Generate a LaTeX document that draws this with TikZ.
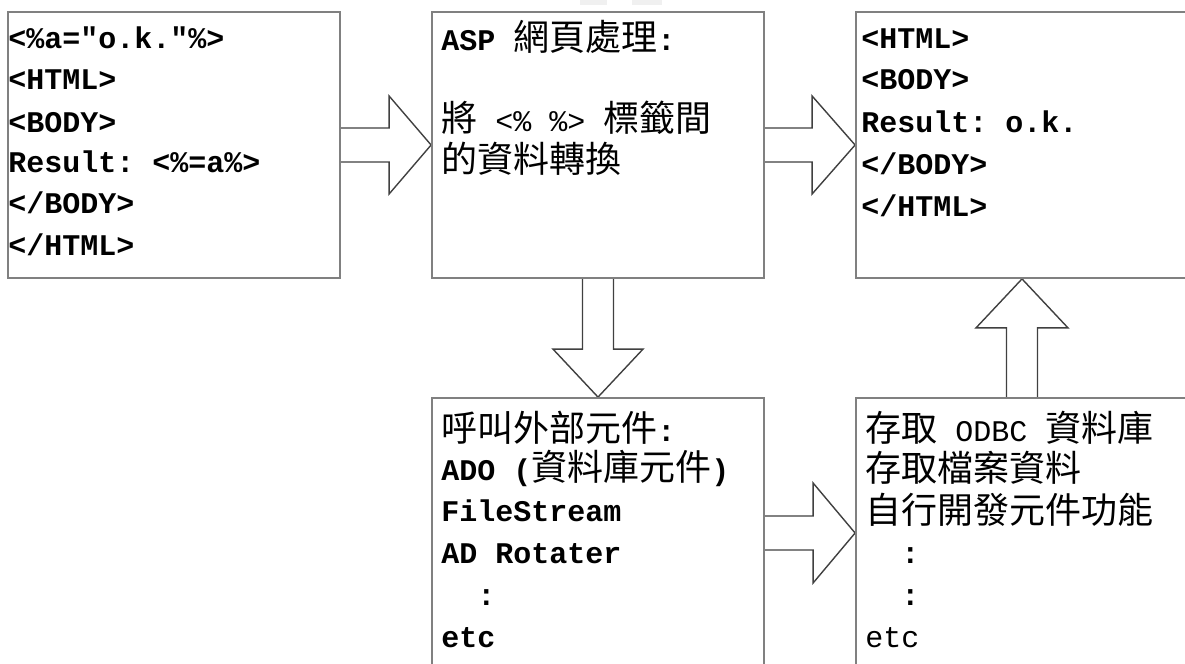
\documentclass[tikz,border=0pt]{standalone}
\usepackage{fontspec}
\setmonofont{Liberation Mono}
\newfontfamily\cjkfont{Noto Sans CJK TC}
\usetikzlibrary{calc,backgrounds}
\newcommand\zhtxt[1]{{\cjkfont\mdseries\fontsize{18pt}{20pt}\selectfont #1}}
\begin{document}
\begin{tikzpicture}[x=0.5pt,y=-0.5pt,
  boxnode/.style={draw=black!50, line width=0.9pt, rectangle, minimum width=166pt, minimum height=133pt, inner sep=0pt},
  tallbox/.style={boxnode, minimum height=141pt},
  txt/.style={anchor=base west, inner sep=0pt, font=\fontsize{15pt}{20pt}\selectfont\ttfamily\bfseries},
  blockarrow/.style={draw=black!75, line width=0.7pt, fill=white, line join=miter}]
\useasboundingbox (0,0) rectangle (1185,664);
\clip (0,0) rectangle (1185,664);

% boxes
\node[boxnode] (b1) at (174,145) {};
\node[boxnode] (b2) at (598,145) {};
\node[boxnode] (b3) at (1022,145) {};
\node[tallbox] (b4) at (598,539) {};
\node[tallbox] (b5) at (1022,539) {};

\coordinate (a4s) at ($(b4.east)+(0,-6)$);
\coordinate (a4t) at ($(b5.west)+(0,-6)$);

% faint marks at the top
\fill[black!6] (580,0) rectangle (607,5);
\fill[black!6] (632,0) rectangle (662,5);

\begin{scope}[on background layer]
\fill[white] (0,0) rectangle (1185,664);
% b1 -> b2
\filldraw[blockarrow] ($(b1.east)+(0,-17)$) -- ($(b2.west)+(-42,-17)$) -- ($(b2.west)+(-42,-49)$) -- (b2.west) -- ($(b2.west)+(-42,49)$) -- ($(b2.west)+(-42,17)$) -- ($(b1.east)+(0,17)$);
% b2 -> b3
\filldraw[blockarrow] ($(b2.east)+(0,-17)$) -- ($(b3.west)+(-43,-17)$) -- ($(b3.west)+(-43,-49)$) -- (b3.west) -- ($(b3.west)+(-43,49)$) -- ($(b3.west)+(-43,17)$) -- ($(b2.east)+(0,17)$);
% b2 -> b4
\filldraw[blockarrow] ($(b2.south)+(-15.5,0)$) -- ($(b4.north)+(-15.5,-48)$) -- ($(b4.north)+(-45,-48)$) -- (b4.north) -- ($(b4.north)+(45,-48)$) -- ($(b4.north)+(15.5,-48)$) -- ($(b2.south)+(15.5,0)$);
% b4 -> b5
\filldraw[blockarrow] ($(a4s)+(0,-17)$) -- ($(a4t)+(-42,-17)$) -- ($(a4t)+(-42,-50)$) -- (a4t) -- ($(a4t)+(-42,50)$) -- ($(a4t)+(-42,17)$) -- ($(a4s)+(0,17)$);
% b5 -> b3
\filldraw[blockarrow] ($(b5.north)+(-15.5,0)$) -- ($(b3.south)+(-15.5,49)$) -- ($(b3.south)+(-46,49)$) -- (b3.south) -- ($(b3.south)+(46,49)$) -- ($(b3.south)+(15.5,49)$) -- ($(b5.north)+(15.5,0)$);
\end{scope}

% box 1 text
\node[txt] (t11) at (8,48) {<\%a="o.k."\%>};
\node[txt] (t12) at (8,90) {<HTML>};
\node[txt] (t13) at (8,132) {<BODY>};
\node[txt] (t14) at (8,172) {Result: <\%=a\%>};
\node[txt] (t15) at (8,213) {</BODY>};
\node[txt] (t16) at (8,255) {</HTML>};

% box 2 text
\node[txt] (t21) at (441,50) {ASP \zhtxt{網頁處理}:};
\node[txt] (t22) at (441,131) {\zhtxt{將} {\mdseries<\% \%>} \zhtxt{標籤間}};
\node[txt] (t23) at (441,172) {\zhtxt{的資料轉換}};

% box 3 text
\node[txt] (t31) at (861,48) {<HTML>};
\node[txt] (t32) at (861,90) {<BODY>};
\node[txt] (t33) at (861,132) {Result: o.k.};
\node[txt] (t34) at (861,174) {</BODY>};
\node[txt] (t35) at (861,216) {</HTML>};

% box 4 text
\node[txt] (t41) at (441,441) {\zhtxt{呼叫外部元件}:};
\node[txt] (t42) at (441,480) {ADO (\zhtxt{資料庫元件})};
\node[txt] (t43) at (441,521) {FileStream};
\node[txt] (t44) at (441,563) {AD Rotater};
\node[txt] (t45) at (441,605) {\phantom{AA}:};
\node[txt] (t46) at (441,647) {etc};

% box 5 text
\node[txt] (t51) at (865,441) {\zhtxt{存取} {\mdseries ODBC} \zhtxt{資料庫}};
\node[txt] (t52) at (865,481) {\zhtxt{存取檔案資料}};
\node[txt] (t53) at (865,523) {\zhtxt{自行開發元件功能}};
\node[txt] (t54) at (865,563) {\phantom{AA}:};
\node[txt] (t55) at (865,605) {\phantom{AA}:};
\node[txt] (t56) at (865,647) {\mdseries etc};
\end{tikzpicture}
\end{document}
